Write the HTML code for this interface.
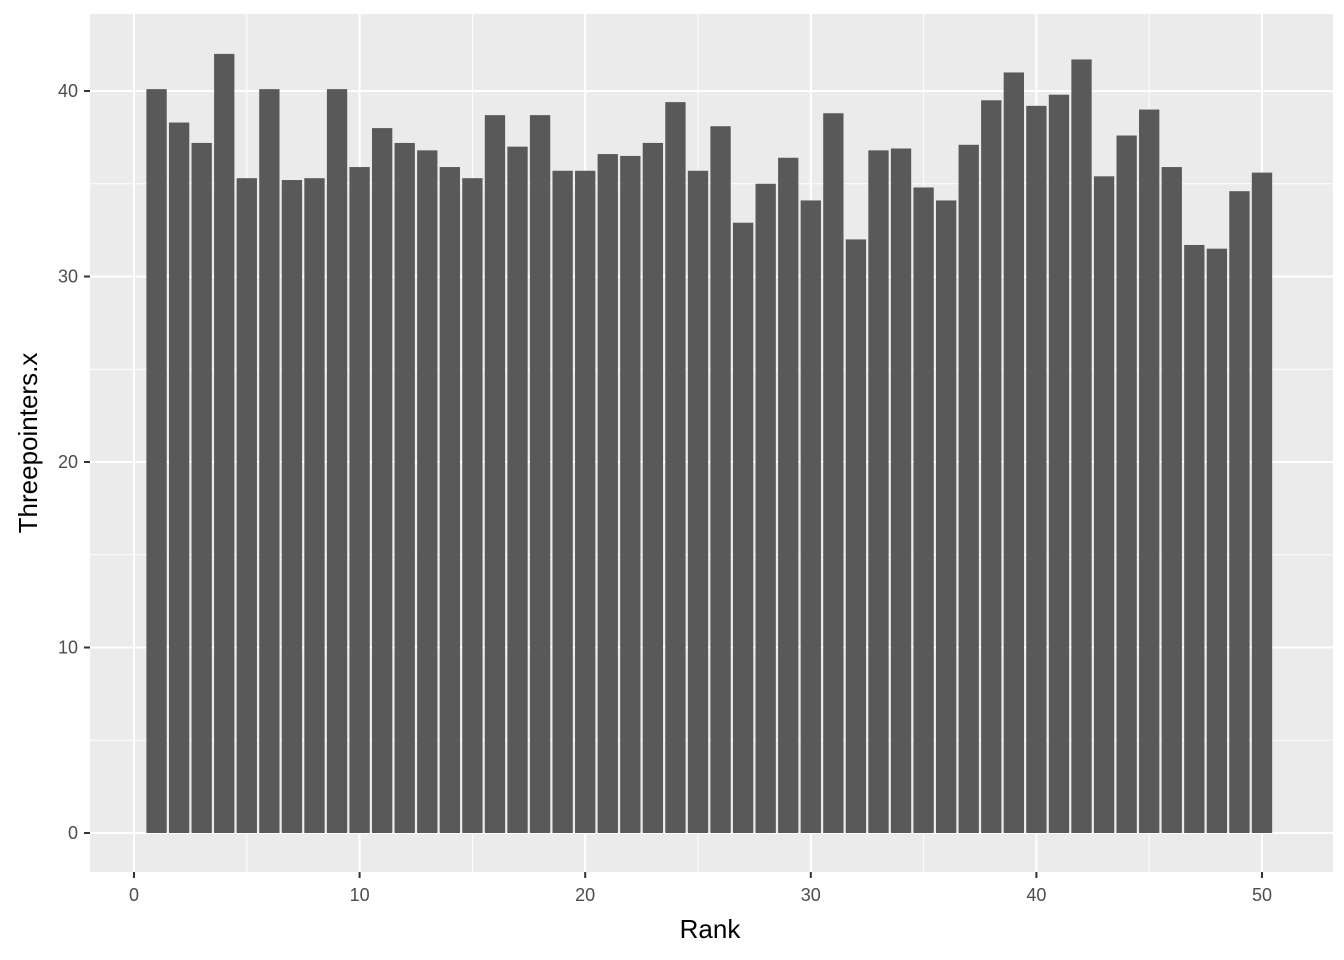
<!DOCTYPE html>
<html><head><meta charset="utf-8"><style>
body{margin:0;background:#fff;}
svg{display:block;font-family:"Liberation Sans",sans-serif;}
</style></head><body>
<svg id="chart" width="1344" height="960">
<rect x="90" y="14" width="1243" height="858" fill="#EBEBEB"/>
<g id="grid"></g><g id="bars"></g><g id="axes"></g>
<text x="710" y="938" font-size="26" text-anchor="middle" fill="#000">Rank</text>
<text transform="translate(37,443) rotate(-90)" font-size="26" text-anchor="middle" fill="#000">Threepointers.x</text>
</svg>
<script>
const ranks=[1,2,3,4,5,6,7,8,9,10,11,12,13,14,15,16,17,18,19,20,21,22,23,24,25,26,27,28,29,30,31,32,33,34,35,36,37,38,39,40,41,42,43,44,45,46,47,48,49,50];
const values=[40.1,38.3,37.2,42.0,35.3,40.1,35.2,35.3,40.1,35.9,38.0,37.2,36.8,35.9,35.3,38.7,37.0,38.7,35.7,35.7,36.6,36.5,37.2,39.4,35.7,38.1,32.9,35.0,36.4,34.1,38.8,32.0,36.8,36.9,34.8,34.1,37.1,39.5,41.0,39.2,39.8,41.7,35.4,37.6,39.0,35.9,31.7,31.5,34.6,35.6];
const xTicks=[0,10,20,30,40,50];
const yTicks=[0,10,20,30,40];
const NS="http://www.w3.org/2000/svg";
const sx=v=>134+v*22.56;
const sy=v=>833-v*18.55;
function mk(tag,attrs,parent){const e=document.createElementNS(NS,tag);for(const k in attrs)e.setAttribute(k,attrs[k]);parent.appendChild(e);return e;}
const grid=document.getElementById('grid'),bars=document.getElementById('bars'),axes=document.getElementById('axes');
for(let i=0;i<xTicks.length-1;i++){const m=(xTicks[i]+xTicks[i+1])/2;
const l=mk('line',{x1:sx(m),x2:sx(m),y1:14,y2:872,stroke:'#fff','stroke-width':1},grid);

}
for(let i=0;i<yTicks.length-1;i++){const m=(yTicks[i]+yTicks[i+1])/2;
const l=mk('line',{x1:90,x2:1333,y1:sy(m),y2:sy(m),stroke:'#fff','stroke-width':1},grid);

}
xTicks.forEach(t=>{const l=mk('line',{x1:sx(t),x2:sx(t),y1:14,y2:872,stroke:'#fff','stroke-width':2},grid);


const k=mk('line',{x1:sx(t),x2:sx(t),y1:872,y2:878,stroke:'#333','stroke-width':2},axes);


const tx=mk('text',{x:sx(t),y:901,'font-size':18,'text-anchor':'middle',fill:'#4D4D4D'},axes);tx.textContent=t;

});
yTicks.forEach(t=>{const l=mk('line',{x1:90,x2:1333,y1:sy(t),y2:sy(t),stroke:'#fff','stroke-width':2},grid);


const k=mk('line',{x1:84,x2:90,y1:sy(t),y2:sy(t),stroke:'#333','stroke-width':2},axes);


const tx=mk('text',{x:78,y:sy(t)+6,'font-size':18,'text-anchor':'end',fill:'#4D4D4D'},axes);tx.textContent=t;

});
ranks.forEach((r,i)=>{const b=mk('rect',{x:sx(r-0.45),width:22.56*0.9,y:sy(values[i]),height:sy(0)-sy(values[i]),fill:'#595959'},bars);

});
</script>
</body></html>
